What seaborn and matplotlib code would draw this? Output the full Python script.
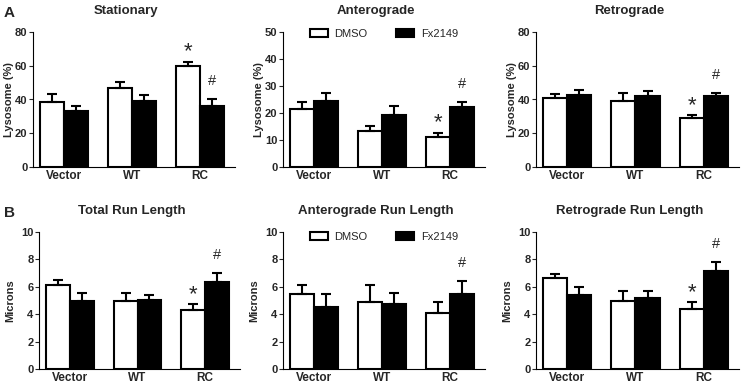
import pandas as pd
import seaborn as sns
import matplotlib.pyplot as plt


groups = ['Vector', 'WT', 'RC']
treatments = ['DMSO', 'Fx2149']

# top row, lysosome (%)
stat_dmso = [38.5, 47.0, 60.0]
stat_dmso_err = [4.5, 3.2, 2.5]
stat_fx = [33.3, 39.0, 36.0]
stat_fx_err = [2.8, 3.5, 4.0]

antero_dmso = [21.3, 13.3, 11.2]
antero_dmso_err = [2.8, 2.0, 1.5]
antero_fx = [24.3, 19.3, 22.3]
antero_fx_err = [3.1, 3.2, 1.6]

retro_dmso = [40.6, 39.4, 28.9]
retro_dmso_err = [2.5, 4.3, 1.9]
retro_fx = [42.6, 42.2, 41.8]
retro_fx_err = [3.3, 2.6, 2.2]

# bottom row, run length (microns)
total_dmso = [6.1, 4.95, 4.32]
total_dmso_err = [0.38, 0.6, 0.4]
total_fx = [4.95, 5.02, 6.38]
total_fx_err = [0.58, 0.4, 0.6]

anrun_dmso = [5.5, 4.87, 4.12]
anrun_dmso_err = [0.6, 1.25, 0.8]
anrun_fx = [4.52, 4.72, 5.48]
anrun_fx_err = [0.95, 0.8, 0.95]

rerun_dmso = [6.62, 4.95, 4.37]
rerun_dmso_err = [0.35, 0.77, 0.5]
rerun_fx = [5.38, 5.18, 7.12]
rerun_fx_err = [0.6, 0.5, 0.7]

titles = ['Stationary', 'Anterograde', 'Retrograde',
          'Total Run Length', 'Anterograde Run Length', 'Retrograde Run Length']
ylabels = ['Lysosome (%)'] * 3 + ['Microns'] * 3
ymax = [80, 50, 80, 10, 10, 10]
ystep = [20, 10, 20, 2, 2, 2]
# which panels get * over RC DMSO and # over RC Fx2149
star = [True, True, True, True, False, True]
hashmark = [True, True, True, True, True, True]

panels = [
    (stat_dmso, stat_dmso_err, stat_fx, stat_fx_err),
    (antero_dmso, antero_dmso_err, antero_fx, antero_fx_err),
    (retro_dmso, retro_dmso_err, retro_fx, retro_fx_err),
    (total_dmso, total_dmso_err, total_fx, total_fx_err),
    (anrun_dmso, anrun_dmso_err, anrun_fx, anrun_fx_err),
    (rerun_dmso, rerun_dmso_err, rerun_fx, rerun_fx_err),
]

sns.set_style('ticks')
plt.rcParams['font.family'] = ['Liberation Sans', 'DejaVu Sans']

W, H = 743, 384
fig = plt.figure(figsize=(W / 100, H / 100), dpi=100)

# axes boxes in pixels: left, top, right, bottom
boxes = [(33, 32, 235, 167), (283, 32, 485, 167), (536, 32, 739, 167),
         (39, 232, 240, 369), (283, 232, 485, 369), (536, 232, 739, 369)]

palette = {'DMSO': 'white', 'Fx2149': 'black'}

for i, (dm, dm_err, fx, fx_err) in enumerate(panels):
    l, t, r, b = boxes[i]
    ax = fig.add_axes([l / W, 1 - b / H, (r - l) / W, (b - t) / H])

    df = pd.DataFrame({
        'group': groups * 2,
        'treatment': ['DMSO'] * 3 + ['Fx2149'] * 3,
        'value': dm + fx,
    })
    sns.barplot(data=df, x='group', y='value', hue='treatment', hue_order=treatments,
                palette=palette, edgecolor='black', linewidth=1.5, width=0.706,
                saturation=1, errorbar=None, legend=False, ax=ax)

    bars = list(ax.containers)
    for k, cont in enumerate(bars):
        errs = dm_err if k == 0 else fx_err
        xs = [p.get_x() + p.get_width() / 2 for p in cont.patches]
        ys = [p.get_height() for p in cont.patches]
        ax.errorbar(xs, ys, yerr=[[0] * len(errs), errs], fmt='none', ecolor='black',
                    elinewidth=1.5, capsize=3.5, capthick=1.5, zorder=5)
        # significance marks on the RC pair
        top = ys[2] + errs[2]
        if k == 0 and star[i]:
            ax.annotate('*', (xs[2], top), xytext=(0, 7), textcoords='offset points',
                        ha='center', va='center', fontsize=16)
        if k == 1 and hashmark[i]:
            ax.annotate('#', (xs[2], top), xytext=(0, 13), textcoords='offset points',
                        ha='center', va='center', fontsize=10.5)

    ax.set_xlim(-0.456, 2.515)
    ax.set_ylim(0, ymax[i])
    ax.set_yticks(range(0, ymax[i] + 1, ystep[i]))
    ax.set_xlabel('')
    ax.set_ylabel(ylabels[i], fontsize=8, fontweight='bold', labelpad=1 if i < 3 else 4)
    ax.set_title(titles[i], fontsize=9.5, fontweight='bold', pad=13, x=0.46)
    ax.tick_params(axis='y', length=3, width=0.8, pad=1, labelsize=8)
    ax.tick_params(axis='x', length=0, pad=2.5, labelsize=8.5)
    for lab in ax.get_xticklabels() + ax.get_yticklabels():
        lab.set_fontweight('bold')
    sns.despine(ax=ax)
    for s in ['left', 'bottom']:
        ax.spines[s].set_linewidth(0.8)
        ax.spines[s].set_color('black')

    if i in (1, 4):
        handles = [bars[0].patches[0], bars[1].patches[0]]
        ax.legend(handles, treatments, loc='center', bbox_to_anchor=(0.5, 0.985 if i == 1 else 0.965),
                  ncol=2, frameon=False, fontsize=8, handlelength=1.6, handleheight=0.7,
                  columnspacing=2.6, handletextpad=0.6)

fig.text(4 / W, 1 - 17 / H, 'A', fontsize=11, fontweight='bold', va='baseline')
fig.text(4 / W, 1 - 217 / H, 'B', fontsize=11, fontweight='bold', va='baseline')

fig.savefig('out.png', dpi=100)
